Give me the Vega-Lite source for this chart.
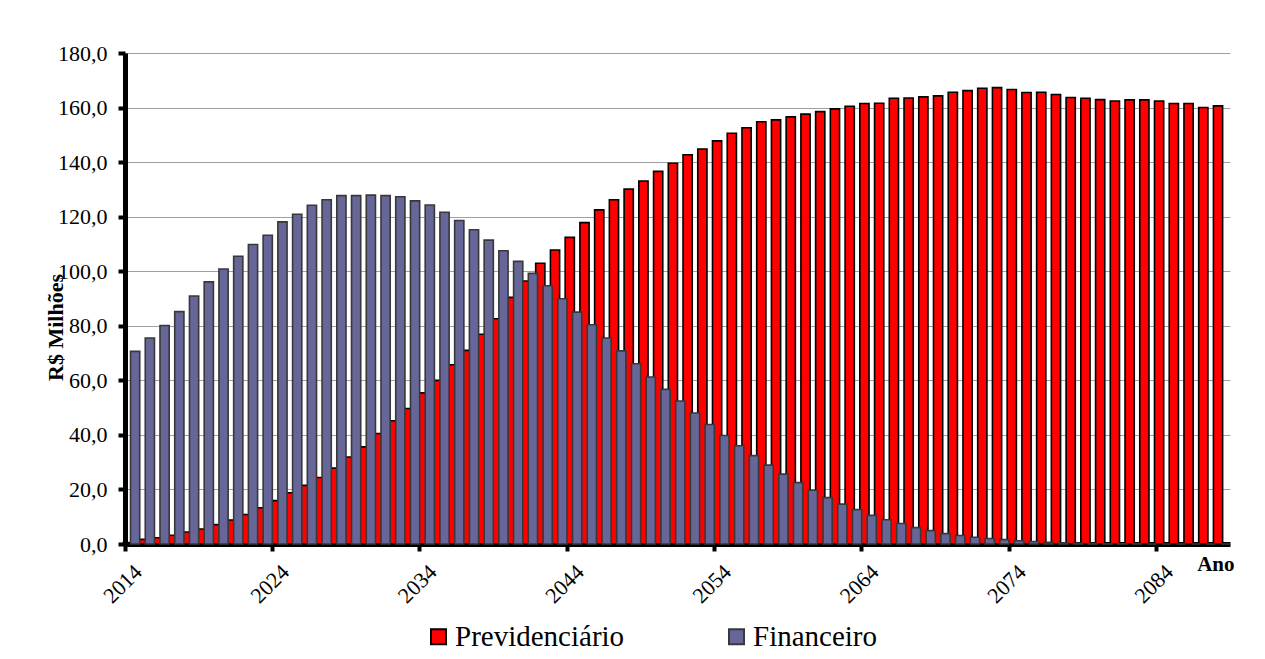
{
  "$schema": "https://vega.github.io/schema/vega-lite/v6.json",
  "width": 1105,
  "height": 491,
  "autosize": {"type": "none"},
  "padding": {"left": 125, "top": 53, "right": 35, "bottom": 115},
  "background": "white",
  "config": {
    "view": {"stroke": null}
  },
  "data": {
    "values": [
      {"ano":2014,"serie":"Previdenciário","valor":0.5},{"ano":2015,"serie":"Previdenciário","valor":1.7},{"ano":2016,"serie":"Previdenciário","valor":2.3},{"ano":2017,"serie":"Previdenciário","valor":3.2},{"ano":2018,"serie":"Previdenciário","valor":4.4},
      {"ano":2019,"serie":"Previdenciário","valor":5.5},{"ano":2020,"serie":"Previdenciário","valor":7.1},{"ano":2021,"serie":"Previdenciário","valor":8.8},{"ano":2022,"serie":"Previdenciário","valor":10.8},{"ano":2023,"serie":"Previdenciário","valor":13.3},
      {"ano":2024,"serie":"Previdenciário","valor":15.9},{"ano":2025,"serie":"Previdenciário","valor":18.8},{"ano":2026,"serie":"Previdenciário","valor":21.5},{"ano":2027,"serie":"Previdenciário","valor":24.4},{"ano":2028,"serie":"Previdenciário","valor":27.8},
      {"ano":2029,"serie":"Previdenciário","valor":31.9},{"ano":2030,"serie":"Previdenciário","valor":35.6},{"ano":2031,"serie":"Previdenciário","valor":40.5},{"ano":2032,"serie":"Previdenciário","valor":45.2},{"ano":2033,"serie":"Previdenciário","valor":49.7},
      {"ano":2034,"serie":"Previdenciário","valor":55.4},{"ano":2035,"serie":"Previdenciário","valor":60.0},{"ano":2036,"serie":"Previdenciário","valor":65.7},{"ano":2037,"serie":"Previdenciário","valor":71.0},{"ano":2038,"serie":"Previdenciário","valor":76.9},
      {"ano":2039,"serie":"Previdenciário","valor":82.6},{"ano":2040,"serie":"Previdenciário","valor":90.4},{"ano":2041,"serie":"Previdenciário","valor":96.4},{"ano":2042,"serie":"Previdenciário","valor":102.9},{"ano":2043,"serie":"Previdenciário","valor":107.8},
      {"ano":2044,"serie":"Previdenciário","valor":112.4},{"ano":2045,"serie":"Previdenciário","valor":117.8},{"ano":2046,"serie":"Previdenciário","valor":122.5},{"ano":2047,"serie":"Previdenciário","valor":126.2},{"ano":2048,"serie":"Previdenciário","valor":130.1},
      {"ano":2049,"serie":"Previdenciário","valor":133.1},{"ano":2050,"serie":"Previdenciário","valor":136.6},{"ano":2051,"serie":"Previdenciário","valor":139.6},{"ano":2052,"serie":"Previdenciário","valor":142.7},{"ano":2053,"serie":"Previdenciário","valor":144.8},
      {"ano":2054,"serie":"Previdenciário","valor":147.8},{"ano":2055,"serie":"Previdenciário","valor":150.6},{"ano":2056,"serie":"Previdenciário","valor":152.6},{"ano":2057,"serie":"Previdenciário","valor":154.8},{"ano":2058,"serie":"Previdenciário","valor":155.5},
      {"ano":2059,"serie":"Previdenciário","valor":156.6},{"ano":2060,"serie":"Previdenciário","valor":157.6},{"ano":2061,"serie":"Previdenciário","valor":158.5},{"ano":2062,"serie":"Previdenciário","valor":159.5},{"ano":2063,"serie":"Previdenciário","valor":160.5},
      {"ano":2064,"serie":"Previdenciário","valor":161.5},{"ano":2065,"serie":"Previdenciário","valor":161.6},{"ano":2066,"serie":"Previdenciário","valor":163.4},{"ano":2067,"serie":"Previdenciário","valor":163.5},{"ano":2068,"serie":"Previdenciário","valor":163.9},
      {"ano":2069,"serie":"Previdenciário","valor":164.3},{"ano":2070,"serie":"Previdenciário","valor":165.6},{"ano":2071,"serie":"Previdenciário","valor":166.2},{"ano":2072,"serie":"Previdenciário","valor":167.1},{"ano":2073,"serie":"Previdenciário","valor":167.3},
      {"ano":2074,"serie":"Previdenciário","valor":166.6},{"ano":2075,"serie":"Previdenciário","valor":165.5},{"ano":2076,"serie":"Previdenciário","valor":165.6},{"ano":2077,"serie":"Previdenciário","valor":164.8},{"ano":2078,"serie":"Previdenciário","valor":163.7},
      {"ano":2079,"serie":"Previdenciário","valor":163.4},{"ano":2080,"serie":"Previdenciário","valor":162.9},{"ano":2081,"serie":"Previdenciário","valor":162.4},{"ano":2082,"serie":"Previdenciário","valor":162.8},{"ano":2083,"serie":"Previdenciário","valor":162.8},
      {"ano":2084,"serie":"Previdenciário","valor":162.4},{"ano":2085,"serie":"Previdenciário","valor":161.5},{"ano":2086,"serie":"Previdenciário","valor":161.5},{"ano":2087,"serie":"Previdenciário","valor":160.0},{"ano":2088,"serie":"Previdenciário","valor":160.6},
      {"ano":2014,"serie":"Financeiro","valor":70.6},{"ano":2015,"serie":"Financeiro","valor":75.5},{"ano":2016,"serie":"Financeiro","valor":80.1},{"ano":2017,"serie":"Financeiro","valor":85.2},{"ano":2018,"serie":"Financeiro","valor":90.9},
      {"ano":2019,"serie":"Financeiro","valor":96.1},{"ano":2020,"serie":"Financeiro","valor":100.8},{"ano":2021,"serie":"Financeiro","valor":105.5},{"ano":2022,"serie":"Financeiro","valor":109.8},{"ano":2023,"serie":"Financeiro","valor":113.2},
      {"ano":2024,"serie":"Financeiro","valor":118.1},{"ano":2025,"serie":"Financeiro","valor":120.9},{"ano":2026,"serie":"Financeiro","valor":124.2},{"ano":2027,"serie":"Financeiro","valor":126.2},{"ano":2028,"serie":"Financeiro","valor":127.7},
      {"ano":2029,"serie":"Financeiro","valor":127.7},{"ano":2030,"serie":"Financeiro","valor":127.9},{"ano":2031,"serie":"Financeiro","valor":127.7},{"ano":2032,"serie":"Financeiro","valor":127.3},{"ano":2033,"serie":"Financeiro","valor":125.8},
      {"ano":2034,"serie":"Financeiro","valor":124.3},{"ano":2035,"serie":"Financeiro","valor":121.6},{"ano":2036,"serie":"Financeiro","valor":118.6},{"ano":2037,"serie":"Financeiro","valor":115.2},{"ano":2038,"serie":"Financeiro","valor":111.4},
      {"ano":2039,"serie":"Financeiro","valor":107.5},{"ano":2040,"serie":"Financeiro","valor":103.6},{"ano":2041,"serie":"Financeiro","valor":99.2},{"ano":2042,"serie":"Financeiro","valor":94.7},{"ano":2043,"serie":"Financeiro","valor":89.9},
      {"ano":2044,"serie":"Financeiro","valor":85.0},{"ano":2045,"serie":"Financeiro","valor":80.4},{"ano":2046,"serie":"Financeiro","valor":75.5},{"ano":2047,"serie":"Financeiro","valor":70.8},{"ano":2048,"serie":"Financeiro","valor":66.1},
      {"ano":2049,"serie":"Financeiro","valor":61.2},{"ano":2050,"serie":"Financeiro","valor":56.7},{"ano":2051,"serie":"Financeiro","valor":52.4},{"ano":2052,"serie":"Financeiro","valor":48.0},{"ano":2053,"serie":"Financeiro","valor":43.8},
      {"ano":2054,"serie":"Financeiro","valor":39.8},{"ano":2055,"serie":"Financeiro","valor":36.0},{"ano":2056,"serie":"Financeiro","valor":32.4},{"ano":2057,"serie":"Financeiro","valor":28.9},{"ano":2058,"serie":"Financeiro","valor":25.6},
      {"ano":2059,"serie":"Financeiro","valor":22.5},{"ano":2060,"serie":"Financeiro","valor":19.7},{"ano":2061,"serie":"Financeiro","valor":17.0},{"ano":2062,"serie":"Financeiro","valor":14.6},{"ano":2063,"serie":"Financeiro","valor":12.6},
      {"ano":2064,"serie":"Financeiro","valor":10.5},{"ano":2065,"serie":"Financeiro","valor":8.9},{"ano":2066,"serie":"Financeiro","valor":7.5},{"ano":2067,"serie":"Financeiro","valor":6.0},{"ano":2068,"serie":"Financeiro","valor":4.9},
      {"ano":2069,"serie":"Financeiro","valor":3.8},{"ano":2070,"serie":"Financeiro","valor":3.1},{"ano":2071,"serie":"Financeiro","valor":2.5},{"ano":2072,"serie":"Financeiro","valor":2.0},{"ano":2073,"serie":"Financeiro","valor":1.6},
      {"ano":2074,"serie":"Financeiro","valor":1.2},{"ano":2075,"serie":"Financeiro","valor":0.9},{"ano":2076,"serie":"Financeiro","valor":0.6},{"ano":2077,"serie":"Financeiro","valor":0.4},{"ano":2078,"serie":"Financeiro","valor":0.3},
      {"ano":2079,"serie":"Financeiro","valor":0.2},{"ano":2080,"serie":"Financeiro","valor":0.1},{"ano":2081,"serie":"Financeiro","valor":0.1},{"ano":2082,"serie":"Financeiro","valor":0.1},{"ano":2083,"serie":"Financeiro","valor":0.0},
      {"ano":2084,"serie":"Financeiro","valor":0.0},{"ano":2085,"serie":"Financeiro","valor":0.0},{"ano":2086,"serie":"Financeiro","valor":0.0},{"ano":2087,"serie":"Financeiro","valor":0.0},{"ano":2088,"serie":"Financeiro","valor":0.0}
    ]
  },
  "mark": {"type": "bar", "strokeWidth": 1.6, "width": {"band": 1.25}, "opacity": 1},
  "encoding": {
    "x": {
      "field": "ano", "type": "ordinal",
      "scale": {"paddingInner": 0, "paddingOuter": 0},
      "axis": {
        "values": [2014, 2024, 2034, 2044, 2054, 2064, 2074, 2084],
        "bandPosition": 0,
        "labelAngle": -45, "labelAlign": "right", "labelBaseline": "middle",
        "labelFont": "Liberation Serif", "labelColor": "black",
        "labelFontSize": 22, "labelPadding": 17, "labelOffset": 6,
        "domainColor": "black", "domainWidth": 5,
        "tickColor": "black", "tickSize": 7, "tickWidth": 4,
        "grid": false,
        "title": "Ano", "titleFont": "Liberation Serif", "titleColor": "black", "titleFontSize": 21, "titleFontWeight": "bold",
        "titleX": 1109, "titleY": 26, "titleAlign": "right", "titleBaseline": "alphabetic", "titleAngle": 0
      }
    },
    "xOffset": {
      "field": "serie", "type": "nominal",
      "sort": ["Previdenciário", "Financeiro"],
      "scale": {"paddingInner": 0, "paddingOuter": 0}
    },
    "y": {
      "field": "valor", "type": "quantitative",
      "scale": {"domain": [0, 180], "nice": false},
      "axis": {
        "values": [0, 20, 40, 60, 80, 100, 120, 140, 160, 180],
        "labelExpr": "replace(format(datum.value, '.1f'), '.', ',')",
        "labelFont": "Liberation Serif", "labelColor": "black",
        "labelFontSize": 22, "labelPadding": 11,
        "domainColor": "black", "domainWidth": 5,
        "tickColor": "black", "tickSize": 7, "tickWidth": 4,
        "grid": true, "gridColor": "#a0a0a0", "gridWidth": 1,
        "title": "R$ Milhões", "titleFont": "Liberation Serif", "titleColor": "black", "titleFontSize": 22, "titleFontWeight": "bold",
        "titleAngle": -90, "titleX": -70, "titleY": 274, "titleAlign": "center", "titleBaseline": "middle"
      }
    },
    "color": {
      "field": "serie", "type": "nominal",
      "sort": ["Previdenciário", "Financeiro"],
      "scale": {"domain": ["Previdenciário", "Financeiro"], "range": ["#ff0000", "#666699"]},
      "legend": {
        "orient": "none", "legendX": 299, "legendY": 569, "direction": "horizontal",
        "title": null, "symbolType": "square", "symbolSize": 225, "symbolStrokeWidth": 2,
        "labelFont": "Liberation Serif", "labelFontSize": 29, "labelColor": "black", "labelLimit": 0,
        "labelOffset": 2, "columnPadding": 97, "padding": 0, "symbolOpacity": 1
      }
    },
    "stroke": {
      "field": "serie", "type": "nominal",
      "sort": ["Previdenciário", "Financeiro"],
      "scale": {"domain": ["Previdenciário", "Financeiro"], "range": ["#000000", "#383838"]},
      "legend": {
        "orient": "none", "legendX": 299, "legendY": 569, "direction": "horizontal",
        "title": null, "symbolType": "square", "symbolSize": 225, "symbolStrokeWidth": 2,
        "labelFont": "Liberation Serif", "labelFontSize": 29, "labelColor": "black", "labelLimit": 0,
        "labelOffset": 2, "columnPadding": 97, "padding": 0, "symbolOpacity": 1
      }
    }
  }
}
